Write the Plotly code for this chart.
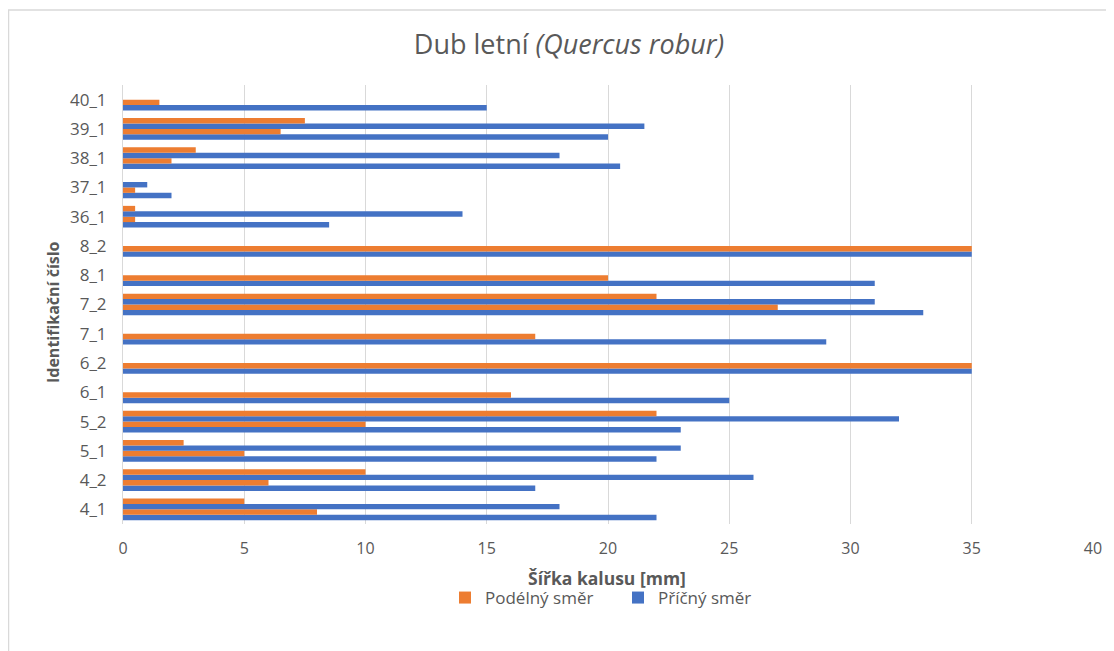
import plotly.graph_objects as go

# Categories (bottom to top)
categories = ["4_1", "4_2", "5_1", "5_2", "6_1", "6_2", "7_1", "7_2",
              "8_1", "8_2", "36_1", "37_1", "38_1", "39_1", "40_1"]

# First measurement pair (lower pair in each category)
podelny_1 = [8, 6, 5, 10, 16, 35, 17, 27, 20, 35, 0.5, 0.5, 2, 6.5, 1.5]
pricny_1 = [22, 17, 22, 23, 25, 35, 29, 33, 31, 35, 8.5, 2, 20.5, 20, 15]

# Second measurement pair (upper pair in each category)
podelny_2 = [5, 10, 2.5, 22, None, None, None, 22, None, None, 0.5, None, 3, 7.5, None]
pricny_2 = [18, 26, 23, 32, None, None, None, 31, None, None, 14, 1, 18, 21.5, None]

x_ticks = [0, 5, 10, 15, 20, 25, 30, 35, 40]

ORANGE = "#ED7D31"
BLUE = "#4472C4"
GRAY = "#595959"
FONT = "Open Sans"

OFF = 8  # page body margin
W, H = 1114 - OFF, 651 - OFF
L, R, T, B = 123 - OFF, 1093 - OFF, 85 - OFF, 524 - OFF  # plot area in figure pixels


def px_x(px):
    """reference window pixel -> paper x"""
    return (px - OFF - L) / (R - L)


def px_y(py):
    """reference window pixel -> paper y"""
    return (B - (py - OFF)) / (B - T)


fig = go.Figure()
# order: bottom bar first
fig.add_trace(go.Bar(y=categories, x=pricny_1, orientation="h", name="Příčný směr",
                     marker_color=BLUE, legendgroup="pricny", showlegend=True, legendrank=2))
fig.add_trace(go.Bar(y=categories, x=podelny_1, orientation="h", name="Podélný směr",
                     marker_color=ORANGE, legendgroup="podelny", showlegend=True, legendrank=1))
fig.add_trace(go.Bar(y=categories, x=pricny_2, orientation="h", name="Příčný směr",
                     marker_color=BLUE, legendgroup="pricny", showlegend=False))
fig.add_trace(go.Bar(y=categories, x=podelny_2, orientation="h", name="Podélný směr",
                     marker_color=ORANGE, legendgroup="podelny", showlegend=False))

fig.update_traces(marker_line_width=0)

fig.update_layout(
    width=W, height=H,
    margin=dict(l=L, r=W - R, t=T, b=H - B, autoexpand=False),
    paper_bgcolor="white", plot_bgcolor="white",
    barmode="group", bargap=0.26, bargroupgap=0,
    font=dict(family=FONT, color=GRAY, size=16),
    title=dict(text="Dub letní <i>(Quercus robur)</i>", xref="container",
               x=(569 - OFF) / W, xanchor="center", yref="container",
               y=1 - (45 - OFF) / H, yanchor="middle",
               font=dict(family=FONT, size=27, color=GRAY)),
    xaxis=dict(range=[0, 40], tickvals=x_ticks, showgrid=True, gridcolor="#D9D9D9",
               gridwidth=1, zeroline=False, showline=False, ticks="",
               tickfont=dict(size=16, color=GRAY), ticklabelstandoff=13, fixedrange=True),
    yaxis=dict(type="category", categoryorder="array", categoryarray=categories,
               showgrid=False, showline=True, linecolor="#D9D9D9", linewidth=1,
               ticks="", tickfont=dict(size=17, color=GRAY), ticklabelstandoff=12,
               fixedrange=True),
    legend=dict(orientation="h", x=px_x(445), xanchor="left", y=px_y(598),
                yanchor="middle", font=dict(size=17, color=GRAY),
                entrywidth=128, entrywidthmode="pixels",
                traceorder="normal", bgcolor="rgba(0,0,0,0)"),
    showlegend=True,
)

fig.add_annotation(text="<b>Šířka kalusu [mm]</b>", xref="paper", yref="paper",
                   x=px_x(607), y=px_y(578), xanchor="center", yanchor="middle",
                   showarrow=False, font=dict(family=FONT, size=17.5, color=GRAY))
fig.add_annotation(text="<b>Identifikační číslo</b>", xref="paper", yref="paper",
                   x=px_x(53), y=px_y(312), xanchor="center", yanchor="middle",
                   textangle=-90, showarrow=False, font=dict(family=FONT, size=16, color=GRAY))

# chart area border
fig.add_shape(type="rect", xref="paper", yref="paper",
              x0=px_x(8.5), x1=px_x(1140), y0=px_y(680), y1=px_y(10),
              line=dict(color="#D9D9D9", width=1.5), fillcolor="rgba(0,0,0,0)", layer="below")

fig.write_html("out.html")
